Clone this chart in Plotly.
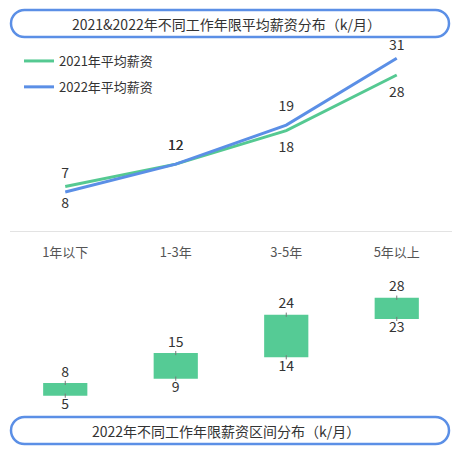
import plotly.graph_objects as go

# data
categories = ["1年以下", "1-3年", "3-5年", "5年以上"]
avg_2021 = [8, 12, 18, 28]
avg_2022 = [7, 12, 19, 31]
range_low = [5, 9, 14, 23]
range_high = [8, 15, 24, 28]

W, H = 457, 452
GREEN = "#55c992"
BLUE = "#5b8fe6"
BAR_GREEN = "#55cb95"
TEXT = "#333333"
FONT = "Noto Sans CJK SC"


def px_x(x):
    return x / W


def px_y(y):
    return 1 - y / H


def pill_path(x0, y0, x1, y1):
    """Rounded (pill shaped) box, given in pixels, returned as a paper path."""
    r = (y1 - y0) / 2
    k = 0.5523 * r
    pts = [
        ("M", [(x0 + r, y0)]),
        ("L", [(x1 - r, y0)]),
        ("C", [(x1 - r + k, y0), (x1, y0 + r - k), (x1, y0 + r)]),
        ("C", [(x1, y0 + r + k), (x1 - r + k, y1), (x1 - r, y1)]),
        ("L", [(x0 + r, y1)]),
        ("C", [(x0 + r - k, y1), (x0, y0 + r + k), (x0, y0 + r)]),
        ("C", [(x0, y0 + r - k), (x0 + r - k, y0), (x0 + r, y0)]),
    ]
    out = ""
    for cmd, coords in pts:
        out += cmd + " ".join(f"{px_x(a):.5f},{px_y(b):.5f}" for a, b in coords) + " "
    return out + "Z"


fig = go.Figure()

# line chart: average salary (transparent markers push the labels off the line)
fig.add_trace(go.Scatter(
    x=categories, y=avg_2021, name="2021年平均薪资", mode="lines+markers+text",
    line=dict(color=GREEN, width=3),
    marker=dict(size=16, color="rgba(0,0,0,0)", line=dict(width=0)),
    text=[str(v) for v in avg_2021],
    textposition=["bottom center", "top center", "bottom center", "bottom center"],
    textfont=dict(size=14, color=TEXT),
    legendgroup="a", xaxis="x", yaxis="y",
))
fig.add_trace(go.Scatter(
    x=categories, y=avg_2022, name="2022年平均薪资", mode="lines+markers+text",
    line=dict(color=BLUE, width=3),
    marker=dict(size=[16, 16, 16, 6], color="rgba(0,0,0,0)", line=dict(width=0)),
    text=[str(v) for v in avg_2022],
    textposition="top center",
    textfont=dict(size=14, color=TEXT),
    legendgroup="b", xaxis="x", yaxis="y",
))

# range bars for 2022
fig.add_trace(go.Bar(
    x=categories, y=[h - l for h, l in zip(range_high, range_low)], base=range_low,
    marker=dict(color=BAR_GREEN, line=dict(width=0)), width=0.4,
    showlegend=False, hoverinfo="skip", xaxis="x2", yaxis="y2",
))
fig.add_trace(go.Scatter(
    x=categories, y=range_high, mode="markers+text",
    marker=dict(symbol="line-ns", size=3, line=dict(color="#777777", width=1)),
    text=[str(v) for v in range_high], textposition="top center",
    textfont=dict(size=14, color=TEXT),
    showlegend=False, xaxis="x2", yaxis="y2",
))
fig.add_trace(go.Scatter(
    x=categories, y=range_low, mode="markers+text",
    marker=dict(symbol="line-ns", size=3, line=dict(color="#777777", width=1)),
    text=[str(v) for v in range_low], textposition="bottom center",
    textfont=dict(size=14, color=TEXT),
    showlegend=False, xaxis="x2", yaxis="y2",
))

# title boxes
fig.add_shape(type="path", path=pill_path(11, 10, 449, 37), xref="paper", yref="paper",
              line=dict(color=BLUE, width=2.5), fillcolor="white", layer="above")
fig.add_shape(type="path", path=pill_path(11, 417, 449, 444), xref="paper", yref="paper",
              line=dict(color=BLUE, width=2.5), fillcolor="white", layer="above")
fig.add_annotation(text="2021&2022年不同工作年限平均薪资分布（k/月）", x=px_x(226), y=px_y(23.5),
                   xref="paper", yref="paper", showarrow=False,
                   font=dict(size=14, color=TEXT), xanchor="center", yanchor="middle")
fig.add_annotation(text="2022年不同工作年限薪资区间分布（k/月）", x=px_x(226), y=px_y(430.5),
                   xref="paper", yref="paper", showarrow=False,
                   font=dict(size=14, color=TEXT), xanchor="center", yanchor="middle")

fig.update_layout(
    width=W, height=H, autosize=False,
    margin=dict(l=0, r=0, t=0, b=0),
    paper_bgcolor="white", plot_bgcolor="white",
    font=dict(family=FONT, color=TEXT),
    showlegend=True,
    legend=dict(x=px_x(19), y=px_y(46), xanchor="left", yanchor="top",
                font=dict(size=13, color=TEXT), tracegroupgap=6,
                bgcolor="rgba(0,0,0,0)", itemwidth=30),
    xaxis=dict(domain=[px_x(10), px_x(452)], type="category", range=[-0.5, 3.5],
               showticklabels=False, showgrid=False, zeroline=False, showline=True,
               linecolor="#e3e3e3", linewidth=1, ticks="", fixedrange=True),
    yaxis=dict(domain=[px_y(231), px_y(36)], range=[0, 35], visible=False,
               fixedrange=True),
    xaxis2=dict(domain=[px_x(10), px_x(452)], type="category", side="top",
                range=[-0.5, 3.5], anchor="y2", showgrid=False, zeroline=False,
                showline=False, ticks="", tickfont=dict(size=13, color="#555555"),
                fixedrange=True),
    yaxis2=dict(domain=[px_y(417), px_y(261)], range=[0, 36.6], visible=False,
                fixedrange=True),
    bargap=0.6,
)

fig.write_html("out.html", config={"displayModeBar": False},
               post_script="document.body.style.margin='0';")
